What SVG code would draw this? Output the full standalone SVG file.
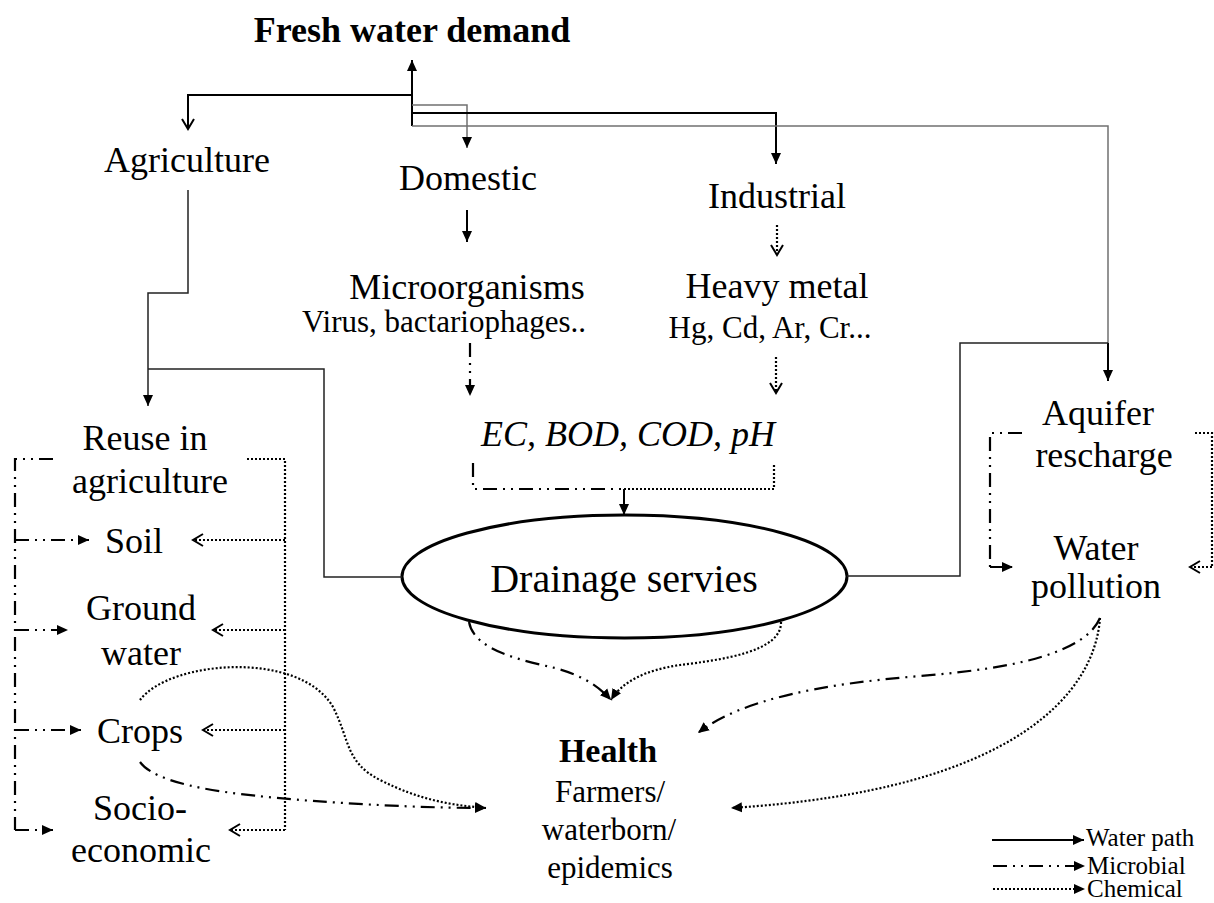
<svg xmlns="http://www.w3.org/2000/svg" width="1214" height="903" viewBox="0 0 1214 903">
  <defs>
    <marker id="tri" markerUnits="userSpaceOnUse" markerWidth="12" markerHeight="12" refX="11" refY="6" orient="auto">
      <path d="M0,1 L11,6 L0,11 z" fill="#000"/>
    </marker>
    <marker id="vee" markerUnits="userSpaceOnUse" markerWidth="14" markerHeight="14" refX="12" refY="7" orient="auto">
      <path d="M2,1 L12,7 L2,13" fill="none" stroke="#000" stroke-width="2"/>
    </marker>
    <style>
      text { font-family: "Liberation Serif", "Times New Roman", serif; fill: #000; text-anchor: middle; }
      .n { font-size: 36px; }
      .s { font-size: 31px; }
      .lg { font-size: 25px; text-anchor: start; }
      .b { font-weight: bold; }
      .water { fill: none; stroke: #000; stroke-width: 2; }
      .thin { fill: none; stroke: #222; stroke-width: 1.5; }
      .grey { fill: none; stroke: #707070; stroke-width: 1.5; }
      .micro { fill: none; stroke: #000; stroke-width: 2.2; stroke-dasharray: 14 6 2 6 2 6; }
      .chem { fill: none; stroke: #000; stroke-width: 2.2; stroke-dasharray: 2 2; }
      .tip { marker-end: url(#tri); }
      .open { marker-end: url(#vee); }
    </style>
  </defs>

  <rect width="1214" height="903" fill="#fff"/>

  <!-- nodes -->
  <g id="fresh-water-demand">
    <text class="n b" x="412" y="42">Fresh water demand</text>
  </g>
  <g id="agriculture">
    <text class="n" x="187" y="172">Agriculture</text>
  </g>
  <g id="domestic">
    <text class="n" x="468" y="190">Domestic</text>
  </g>
  <g id="industrial">
    <text class="n" x="777" y="208">Industrial</text>
  </g>
  <g id="microorganisms">
    <text class="n" x="467" y="299">Microorganisms</text>
    <text class="s" x="444" y="332">Virus, bactariophages..</text>
  </g>
  <g id="heavy-metal">
    <text class="n" x="777" y="298">Heavy metal</text>
    <text class="s" x="770" y="338">Hg, Cd, Ar, Cr...</text>
  </g>
  <g id="parameters">
    <text class="n" x="628" y="446" font-style="italic">EC, BOD, COD, pH</text>
  </g>
  <g id="drainage">
    <ellipse cx="624.5" cy="576.5" rx="222.5" ry="61.5" fill="#fff" stroke="#000" stroke-width="3"/>
    <text x="624" y="592" font-size="40">Drainage servies</text>
  </g>
  <g id="reuse">
    <text class="n" x="145" y="450">Reuse in</text>
    <text class="n" x="150" y="493">agriculture</text>
  </g>
  <g id="soil">
    <text class="n" x="134" y="553">Soil</text>
  </g>
  <g id="ground-water">
    <text class="n" x="141" y="620">Ground</text>
    <text class="n" x="141" y="665">water</text>
  </g>
  <g id="crops">
    <text class="n" x="140" y="743">Crops</text>
  </g>
  <g id="socio-economic">
    <text class="n" x="140" y="820">Socio-</text>
    <text class="n" x="141" y="862">economic</text>
  </g>
  <g id="aquifer">
    <text class="n" x="1098" y="425">Aquifer</text>
    <text class="n" x="1104" y="467">rescharge</text>
  </g>
  <g id="water-pollution">
    <text class="n" x="1096" y="560">Water</text>
    <text class="n" x="1096" y="598">pollution</text>
  </g>
  <g id="health">
    <text class="b" x="608" y="762" font-size="34">Health</text>
    <text class="s" x="610" y="802">Farmers/</text>
    <text class="s" x="609" y="840">waterborn/</text>
    <text class="s" x="610" y="878">epidemics</text>
  </g>
  <g id="legend">
    <path class="water tip" d="M992,840 H1084"/>
    <text class="lg" x="1086" y="846">Water path</text>
    <path class="micro tip" d="M993,866 H1085"/>
    <text class="lg" x="1087" y="874">Microbial</text>
    <path class="chem tip" d="M993,889 H1085"/>
    <text class="lg" x="1087" y="897">Chemical</text>
  </g>

  <!-- connectors -->
  <g id="connectors">
    <!-- water supply from the fresh water demand -->
    <path class="water tip" d="M412,126 V60"/>
    <path class="water open" d="M412,95 H188 V129"/>
    <path class="grey tip" d="M412,105 H467 V148"/>
    <path class="water tip" d="M412,113 H776 V164"/>
    <path class="grey" d="M412,126 H1108 V343"/>
    <path class="water tip" d="M1108,343 V381"/>
    <path class="thin" d="M847,576 H960 V343 H1108"/>
    <path class="thin tip" d="M188,190 V293 H148 V406"/>
    <path class="thin" d="M148,369 H324 V577 H402"/>
    <path class="water tip" d="M467,210 V242"/>

    <!-- pollutants towards the drainage -->
    <path class="chem open" d="M777,225 V255"/>
    <path class="chem open" d="M776,357 V393"/>
    <path class="micro tip" d="M470,343 V396"/>
    <path class="micro" d="M473,463 V489 H624"/>
    <path class="chem" d="M624,489 H774 V463"/>
    <path class="water tip" d="M624,489 V515"/>

    <!-- drainage to health -->
    <path class="micro tip" d="M469,622 C474,650 520,660 555,668 C585,676 600,688 611,700"/>
    <path class="chem tip" d="M781,622 C782,652 720,660 680,665 C645,670 622,682 611,700"/>

    <!-- water pollution to health -->
    <path class="micro tip" d="M1100,618 C1085,652 1020,668 920,676 C820,684 740,700 698,733"/>
    <path class="chem tip" d="M1100,618 C1095,690 1020,790 731,808"/>

    <!-- crops and ground water to health -->
    <path class="micro tip" d="M140,762 C160,790 260,796 300,800 C380,806 440,808 486,808"/>
    <path class="chem tip" d="M140,700 C170,660 300,650 333,707 C350,740 345,762 380,780 C420,800 450,805 486,808"/>

    <!-- reuse in agriculture: microbial side -->
    <path class="micro" d="M53,459 H15 V830"/>
    <path class="micro tip" d="M15,830 H53"/>
    <path class="micro tip" d="M15,540 H89"/>
    <path class="micro tip" d="M15,630 H68"/>
    <path class="micro tip" d="M15,730 H81"/>

    <!-- reuse in agriculture: chemical side -->
    <path class="chem" d="M247,459 H285 V830"/>
    <path class="chem open" d="M285,830 H230"/>
    <path class="chem open" d="M285,540 H193"/>
    <path class="chem open" d="M285,630 H213"/>
    <path class="chem open" d="M285,730 H203"/>

    <!-- aquifer recharge to water pollution -->
    <path class="micro" d="M1022,433 H990 V567"/>
    <path class="micro tip" d="M990,567 H1013"/>
    <path class="chem" d="M1195,433 H1212 V567" stroke="#555" stroke-width="1.5"/>
    <path class="chem open" d="M1212,567 H1190"/>
  </g>
</svg>
